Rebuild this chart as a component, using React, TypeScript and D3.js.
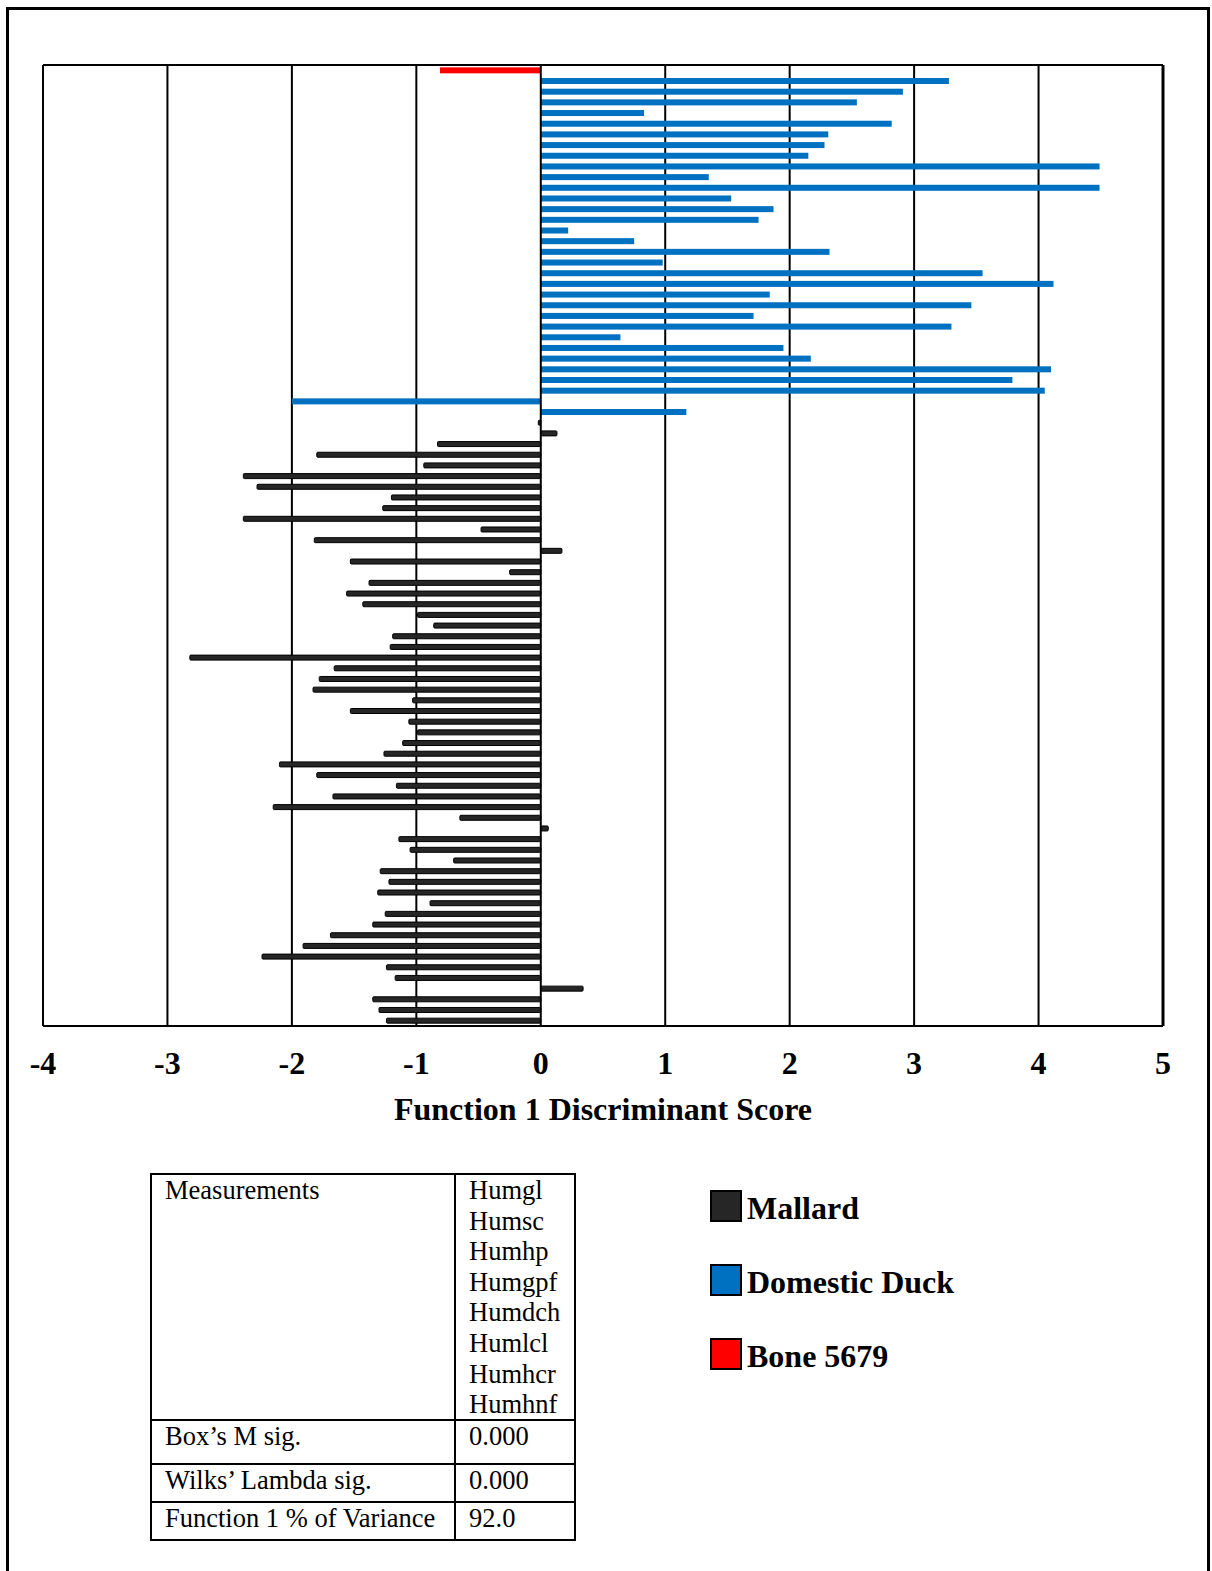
import React from "react";
import * as d3 from "d3";

const boneValues = [-0.81];
const domesticValues = [
  3.28, 2.91, 2.54, 0.83, 2.82, 2.31, 2.28, 2.15, 4.49, 1.35, 4.49, 1.53, 1.87, 1.75, 0.22, 0.75,
  2.32, 0.98, 3.55, 4.12, 1.84, 3.46, 1.71, 3.3, 0.64, 1.95, 2.17, 4.1, 3.79, 4.05, -2.0, 1.17,
];
const mallardValues = [
  -0.02, 0.13, -0.83, -1.8, -0.94, -2.39, -2.28, -1.2, -1.27, -2.39, -0.48, -1.82, 0.17, -1.53, -0.25,
  -1.38, -1.56, -1.43, -0.99, -0.86, -1.19, -1.21, -2.82, -1.66, -1.78, -1.83, -1.03, -1.53, -1.06,
  -0.99, -1.11, -1.26, -2.1, -1.8, -1.16, -1.67, -2.15, -0.65, 0.06, -1.14, -1.05, -0.7, -1.29, -1.22,
  -1.31, -0.89, -1.25, -1.35, -1.69, -1.91, -2.24, -1.24, -1.17, 0.34, -1.35, -1.3, -1.24,
];
const xTicks = [-4, -3, -2, -1, 0, 1, 2, 3, 4, 5];
const xTitle = "Function 1 Discriminant Score";
const legendItems = [
  { label: "Mallard", color: "#262626" },
  { label: "Domestic Duck", color: "#0070C0" },
  { label: "Bone 5679", color: "#FF0000" },
];
const measurements = ["Humgl", "Humsc", "Humhp", "Humgpf", "Humdch", "Humlcl", "Humhcr", "Humhnf"];
const statRows = [
  { label: "Box\u2019s M sig.", value: "0.000" },
  { label: "Wilks\u2019 Lambda sig.", value: "0.000" },
  { label: "Function 1 % of Variance", value: "92.0" },
];

type Row = { id: string; value: number; group: string };
const rows: Row[] = [
  ...boneValues.map((v) => ({ value: v, group: "bone" })),
  ...domesticValues.map((v) => ({ value: v, group: "domestic" })),
  ...mallardValues.map((v) => ({ value: v, group: "mallard" })),
].map((r, i) => ({ ...r, id: String(i) }));

const FONT = "'Liberation Serif', 'Times New Roman', serif";

export default function App() {
  const left = 43, right = 1163, top = 65, bottom = 1026;
  const x = d3.scaleLinear().domain([-4, 5]).range([left, right]);
  const y = d3
    .scaleBand<string>()
    .domain(rows.map((r) => r.id))
    .range([top, bottom])
    .paddingInner(0.45)
    .paddingOuter(0.225);
  const bw = y.bandwidth();

  return (
    <svg
      width={1212}
      height={1571}
      style={{ position: "absolute", left: 0, top: 0, display: "block", background: "#fff" }}
    >
      <rect x={0} y={0} width={1212} height={1571} fill="#fff" />
      {/* outer frame */}
      <rect x={7.5} y={8.5} width={1201} height={1600} fill="none" stroke="#000" strokeWidth={3} />

      {/* gridlines */}
      {xTicks
        .filter((t) => t > -4 && t < 5 && t !== 0)
        .map((t) => (
          <line key={t} x1={x(t)} x2={x(t)} y1={top} y2={bottom} stroke="#000" strokeWidth={2} />
        ))}

      {/* bars */}
      {rows.map((r) => {
        const x0 = Math.min(x(0), x(r.value));
        const w = Math.abs(x(r.value) - x(0));
        const yc = (y(r.id) as number) + bw / 2;
        if (r.group === "mallard") {
          return (
            <rect
              key={r.id}
              x={x0}
              y={yc - 2.5}
              width={Math.max(w, 1)}
              height={5}
              fill="#262626"
              stroke="#000"
              strokeWidth={1}
              rx={1}
            />
          );
        }
        return (
          <rect
            key={r.id}
            x={x0}
            y={yc - 3}
            width={w}
            height={6}
            fill={r.group === "bone" ? "#FF0000" : "#0070C0"}
          />
        );
      })}

      {/* zero axis */}
      <line x1={x(0)} x2={x(0)} y1={top} y2={bottom} stroke="#000" strokeWidth={2} />

      {/* plot frame */}
      <line x1={left} x2={right} y1={top} y2={top} stroke="#000" strokeWidth={2} />
      <line x1={left} x2={right} y1={bottom} y2={bottom} stroke="#000" strokeWidth={2} />
      <line x1={left} x2={left} y1={top} y2={bottom} stroke="#000" strokeWidth={2} />
      <line x1={right} x2={right} y1={top} y2={bottom} stroke="#000" strokeWidth={3} />

      {/* tick labels */}
      {xTicks.map((t) => (
        <text
          key={t}
          x={x(t)}
          y={1074}
          textAnchor="middle"
          fontFamily={FONT}
          fontWeight="bold"
          fontSize={32}
        >
          {String(t)}
        </text>
      ))}
      <text x={603} y={1120} textAnchor="middle" fontFamily={FONT} fontWeight="bold" fontSize={32}>
        {xTitle}
      </text>

      {/* table */}
      <g fontFamily={FONT} fontSize={26.5}>
        <rect x={151} y={1174} width={424} height={366} fill="none" stroke="#000" strokeWidth={2} />
        <line x1={455} x2={455} y1={1174} y2={1540} stroke="#000" strokeWidth={2} />
        <line x1={151} x2={575} y1={1420} y2={1420} stroke="#000" strokeWidth={2} />
        <line x1={151} x2={575} y1={1464} y2={1464} stroke="#000" strokeWidth={2} />
        <line x1={151} x2={575} y1={1502} y2={1502} stroke="#000" strokeWidth={2} />
        <text x={165} y={1199}>Measurements</text>
        {measurements.map((m, i) => (
          <text key={m} x={469} y={1199 + i * 30.6}>
            {m}
          </text>
        ))}
        {statRows.map((s, i) => {
          const by = [1445, 1489, 1527][i];
          return (
            <g key={s.label}>
              <text x={165} y={by}>{s.label}</text>
              <text x={469} y={by}>{s.value}</text>
            </g>
          );
        })}
      </g>

      {/* legend */}
      {legendItems.map((l, i) => {
        const sy = 1191 + i * 74;
        return (
          <g key={l.label}>
            <rect x={711} y={sy} width={30} height={30} fill={l.color} stroke="#000" strokeWidth={2} />
            <text x={747} y={sy + 28} fontFamily={FONT} fontWeight="bold" fontSize={32}>
              {l.label}
            </text>
          </g>
        );
      })}
    </svg>
  );
}
